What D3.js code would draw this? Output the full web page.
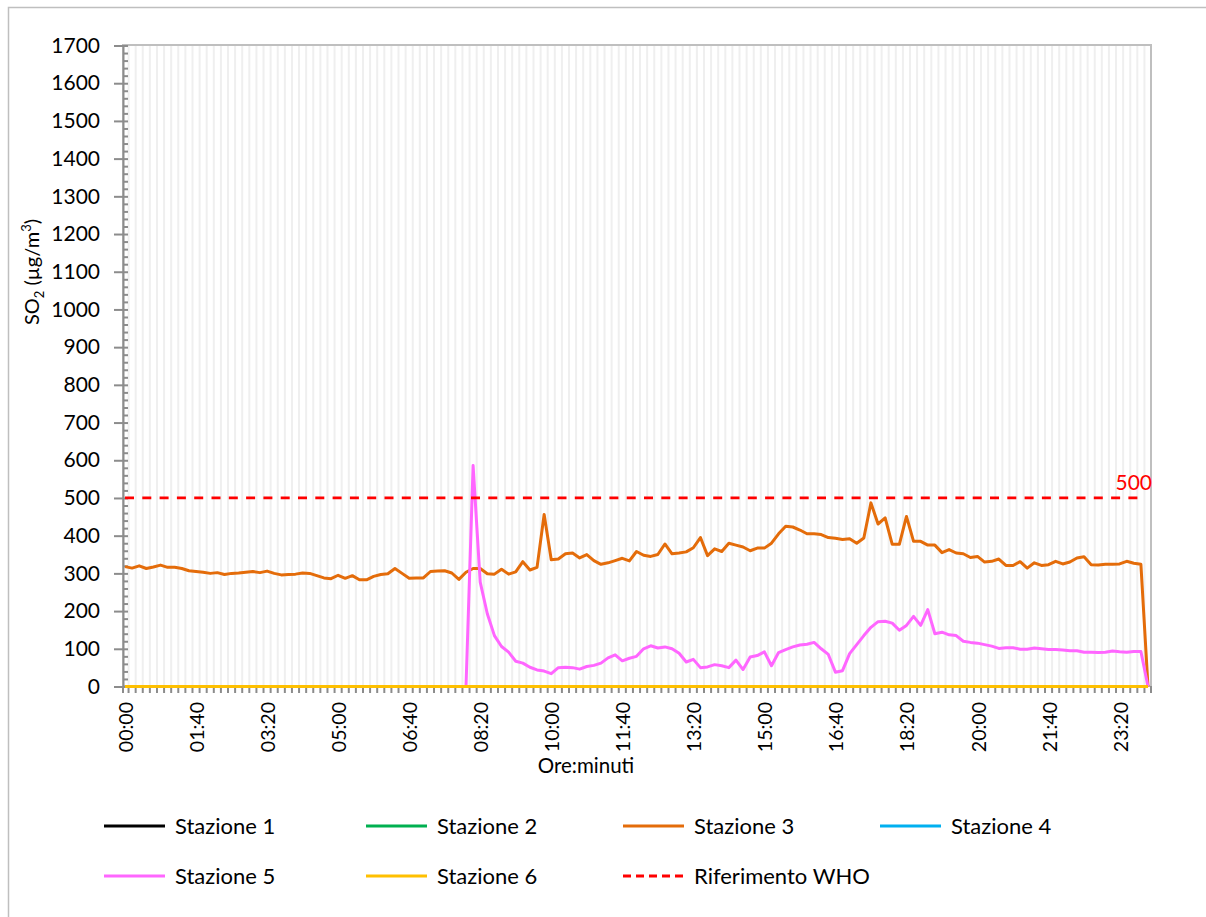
<!DOCTYPE html>
<html>
<head>
<meta charset="utf-8">
<script src="https://cdn.jsdelivr.net/npm/d3@7/dist/d3.min.js"></script>
<style>
  body { margin: 0; background: #fff; }
  text { font-family: Lato, "Open Sans", sans-serif; fill: #000; }
</style>
</head>
<body>
<div id="chart-area"></div>
<script>
// x tick labels (every 10th category, categories are 10 minutes apart)
const tickLabels = ["00:00","01:40","03:20","05:00","06:40","08:20","10:00","11:40",
  "13:20","15:00","16:40","18:20","20:00","21:40","23:20"];
const yTicks = [0,100,200,300,400,500,600,700,800,900,1000,1100,1200,1300,1400,1500,1600,1700];

const stazione1 = [
  0,0,0,0,0,0,0,0,0,0, 0,0,0,0,0,0,0,0,0,0, 0,0,0,0,0,0,0,0,0,0, 0,0,0,0,0,0,0,0,0,0,
  0,0,0,0,0,0,0,0,0,0, 0,0,0,0,0,0,0,0,0,0, 0,0,0,0,0,0,0,0,0,0, 0,0,0,0,0,0,0,0,0,0,
  0,0,0,0,0,0,0,0,0,0, 0,0,0,0,0,0,0,0,0,0, 0,0,0,0,0,0,0,0,0,0, 0,0,0,0,0,0,0,0,0,0,
  0,0,0,0,0,0,0,0,0,0, 0,0,0,0,0,0,0,0,0,0, 0,0,0,0,0];
const stazione2 = [
  0,0,0,0,0,0,0,0,0,0, 0,0,0,0,0,0,0,0,0,0, 0,0,0,0,0,0,0,0,0,0, 0,0,0,0,0,0,0,0,0,0,
  0,0,0,0,0,0,0,0,0,0, 0,0,0,0,0,0,0,0,0,0, 0,0,0,0,0,0,0,0,0,0, 0,0,0,0,0,0,0,0,0,0,
  0,0,0,0,0,0,0,0,0,0, 0,0,0,0,0,0,0,0,0,0, 0,0,0,0,0,0,0,0,0,0, 0,0,0,0,0,0,0,0,0,0,
  0,0,0,0,0,0,0,0,0,0, 0,0,0,0,0,0,0,0,0,0, 0,0,0,0,0];
const stazione3 = [
  318,314,320,313,317,322,316,316,313,307,
  305,303,300,302,297,300,301,303,305,302,
  306,300,296,297,298,301,300,294,288,286,
  295,287,294,283,283,292,297,299,313,300,
  287,288,288,305,306,307,301,284,303,313,
  313,299,298,311,298,304,331,309,316,456,
  336,338,352,354,341,350,334,324,328,334,
  340,333,358,348,345,350,378,352,354,357,
  368,395,347,365,358,380,375,370,360,367,
  367,380,405,425,423,415,405,405,403,395,
  393,390,392,380,394,487,431,447,377,377,
  451,385,385,375,375,355,363,354,352,342,
  345,330,332,338,321,321,331,314,328,321,
  323,332,325,330,341,344,323,322,324,324,
  325,332,327,324,0];
const stazione4 = [
  0,0,0,0,0,0,0,0,0,0, 0,0,0,0,0,0,0,0,0,0, 0,0,0,0,0,0,0,0,0,0, 0,0,0,0,0,0,0,0,0,0,
  0,0,0,0,0,0,0,0,0,0, 0,0,0,0,0,0,0,0,0,0, 0,0,0,0,0,0,0,0,0,0, 0,0,0,0,0,0,0,0,0,0,
  0,0,0,0,0,0,0,0,0,0, 0,0,0,0,0,0,0,0,0,0, 0,0,0,0,0,0,0,0,0,0, 0,0,0,0,0,0,0,0,0,0,
  0,0,0,0,0,0,0,0,0,0, 0,0,0,0,0,0,0,0,0,0, 0,0,0,0,0];
const stazione5 = [
  0,0,0,0,0,0,0,0,0,0, 0,0,0,0,0,0,0,0,0,0, 0,0,0,0,0,0,0,0,0,0, 0,0,0,0,0,0,0,0,0,0,
  0,0,0,0,0,0,0,0,0,586,
  277,193,135,106,91,67,62,51,44,41,
  34,50,51,50,46,53,56,62,76,84,
  68,75,80,100,108,102,105,100,88,65,
  72,50,52,58,55,50,70,45,78,82,
  92,55,90,98,105,110,112,117,100,85,
  38,42,87,111,135,157,172,173,168,149,
  162,186,162,204,140,144,137,135,120,117,
  115,111,107,101,103,103,99,99,102,100,
  98,98,97,95,95,91,91,90,91,94,
  92,91,93,93,0];
const stazione6 = [
  0,0,0,0,0,0,0,0,0,0, 0,0,0,0,0,0,0,0,0,0, 0,0,0,0,0,0,0,0,0,0, 0,0,0,0,0,0,0,0,0,0,
  0,0,0,0,0,0,0,0,0,0, 0,0,0,0,0,0,0,0,0,0, 0,0,0,0,0,0,0,0,0,0, 0,0,0,0,0,0,0,0,0,0,
  0,0,0,0,0,0,0,0,0,0, 0,0,0,0,0,0,0,0,0,0, 0,0,0,0,0,0,0,0,0,0, 0,0,0,0,0,0,0,0,0,0,
  0,0,0,0,0,0,0,0,0,0, 0,0,0,0,0,0,0,0,0,0, 0,0,0,0,0];
const riferimentoWHO = [
  500,500,500,500,500,500,500,500,500,500, 500,500,500,500,500,500,500,500,500,500,
  500,500,500,500,500,500,500,500,500,500, 500,500,500,500,500,500,500,500,500,500,
  500,500,500,500,500,500,500,500,500,500, 500,500,500,500,500,500,500,500,500,500,
  500,500,500,500,500,500,500,500,500,500, 500,500,500,500,500,500,500,500,500,500,
  500,500,500,500,500,500,500,500,500,500, 500,500,500,500,500,500,500,500,500,500,
  500,500,500,500,500,500,500,500,500,500, 500,500,500,500,500,500,500,500,500,500,
  500,500,500,500,500,500,500,500,500,500, 500,500,500,500,500,500,500,500,500,500,
  500,500,500,500,null];

const seriesNames = ["Stazione 1","Stazione 2","Stazione 3","Stazione 4","Stazione 5","Stazione 6","Riferimento WHO"];

// categories: one every 10 minutes, 00:00 .. 24:00
const pad = n => String(n).padStart(2, "0");
const times = stazione3.map((d, i) => pad(Math.floor(i * 10 / 60)) + ":" + pad(i * 10 % 60));

let d3 = window.d3;
let W = 1206, H = 917;
let margin = { left: 123, right: 55, top: 45, bottom: 231 };
let width = W - margin.left - margin.right,
    height = H - margin.top - margin.bottom;

let svg = d3.select("#chart-area")
  .append("svg")
    .attr("width", W)
    .attr("height", H);

// chart area border
svg.append("rect")
  .attr("x", 8.5).attr("y", 7.5)
  .attr("width", 1220).attr("height", 930)
  .attr("fill", "#fff")
  .attr("stroke", "#bfbfbf")
  .attr("stroke-width", 1.5);

let group = svg.append("g")
  .attr("transform", `translate(${ margin.left }, ${ margin.top })`);

let x = d3.scalePoint()
  .domain(times)
  .range([2, width - 3]);
let step = x.step();

// half pixel shift so the 3px lines sit on whole pixels
let y = d3.scaleLinear()
  .domain([0, 1700])
  .range([height + 0.5, 0.5]);

// vertical gridlines between categories
group.append("g")
  .selectAll("line")
  .data(times.slice(0, -1))
  .enter().append("line")
    .attr("x1", d => x(d) + step / 2)
    .attr("x2", d => x(d) + step / 2)
    .attr("y1", 0)
    .attr("y2", height)
    .attr("stroke", "#efefef")
    .attr("stroke-width", 2);

// plot area border
group.append("rect")
  .attr("x", 0).attr("y", 0)
  .attr("width", width).attr("height", height)
  .attr("fill", "none")
  .attr("stroke", "#bfbfbf")
  .attr("stroke-width", 2);

// x axis ticks
let xTicks = group.append("g")
  .attr("transform", `translate(0, ${ height })`);
xTicks.selectAll("line")
  .data(times.slice(0, -1))
  .enter().append("line")
    .attr("x1", d => x(d) + step / 2)
    .attr("x2", d => x(d) + step / 2)
    .attr("y1", 0)
    .attr("y2", 7)
    .attr("stroke", "#8c8c8c")
    .attr("stroke-width", 2);
xTicks.append("line")
  .attr("x1", 0).attr("x2", 0).attr("y1", 0).attr("y2", 7)
  .attr("stroke", "#8c8c8c").attr("stroke-width", 2);
xTicks.append("line")
  .attr("x1", width).attr("x2", width).attr("y1", 0).attr("y2", 7)
  .attr("stroke", "#8c8c8c").attr("stroke-width", 2);

// x labels
xTicks.selectAll("text")
  .data(tickLabels)
  .enter().append("text")
    .attr("transform", d => `translate(${ x(d) + 1 }, 16) rotate(-90)`)
    .attr("text-anchor", "end")
    .attr("dy", "0.36em")
    .attr("font-size", "19.5px")
    .text(d => d);

// y axis: major ticks crossing, minor ticks inside
let yAxisCall = d3.axisLeft(y)
  .tickValues(yTicks)
  .tickFormat(d3.format("d"))
  .tickSizeInner(9)
  .tickSizeOuter(0)
  .tickPadding(14);
let yAxis = group.append("g")
  .attr("class", "y-axis")
  .call(yAxisCall);
yAxis.select(".domain").attr("stroke", "#8c8c8c").attr("stroke-width", 2);
yAxis.selectAll(".tick line").attr("stroke", "#8c8c8c").attr("stroke-width", 2);
yAxis.selectAll(".tick text")
  .attr("font-size", "21px")
  .attr("font-family", "Lato, 'Open Sans', sans-serif")
  .attr("fill", "#000");

let yMinor = group.append("g")
  .call(d3.axisRight(y).ticks(68).tickSizeInner(5).tickSizeOuter(0).tickFormat(""));
yMinor.select(".domain").remove();
yMinor.selectAll(".tick line").attr("stroke", "#8c8c8c").attr("stroke-width", 2);

// series
let colors = ["#000000", "#00b050", "#e46c0a", "#00b0f0", "#ff66ff", "#ffc000", "#ff0000"];
let allSeries = [stazione1, stazione2, stazione3, stazione4, stazione5, stazione6, riferimentoWHO];

let line = d3.line()
  .defined(d => d != null)
  .x((d, i) => x(times[i]))
  .y(d => y(d));

group.append("g")
  .selectAll("path")
  .data(allSeries)
  .enter().append("path")
    .attr("d", line)
    .attr("fill", "none")
    .attr("stroke", (d, i) => colors[i])
    .attr("stroke-width", (d, i) => i === 6 ? 2.8 : 3)
    .attr("stroke-dasharray", (d, i) => i === 6 ? "9,8.3" : null)
    .attr("stroke-linejoin", "round");

// WHO label
group.append("text")
  .attr("x", width + 1)
  .attr("y", y(500) - 8)
  .attr("text-anchor", "end")
  .attr("font-size", "21px")
  .style("fill", "#ff0000")
  .text("500");

// axis titles
group.append("text")
  .attr("x", 586 - margin.left)
  .attr("y", 766 - margin.top)
  .attr("dy", "0.35em")
  .attr("text-anchor", "middle")
  .attr("font-size", "20.5px")
  .text("Ore:minuti");

let yTitle = svg.append("text")
  .attr("transform", "translate(32, 272) rotate(-90)")
  .attr("text-anchor", "middle")
  .attr("dy", "0.35em")
  .attr("font-size", "20px");
yTitle.append("tspan").text("SO");
yTitle.append("tspan").attr("font-size", "13px").attr("dy", "5").text("2");
yTitle.append("tspan").attr("dy", "-5").text(" (µg/m");
yTitle.append("tspan").attr("font-size", "13px").attr("dy", "-8").text("3");
yTitle.append("tspan").attr("dy", "8").text(")");

// legend
let legendX = [104, 366, 623, 880];
let legendY = [826, 876];
let legend = svg.append("g")
  .selectAll("g")
  .data(seriesNames)
  .enter().append("g")
    .attr("transform", (d, i) => `translate(${ legendX[i % 4] }, ${ legendY[Math.floor(i / 4)] })`);
legend.append("line")
  .attr("x1", 0).attr("x2", 61)
  .attr("stroke", (d, i) => colors[i])
  .attr("stroke-width", 3)
  .attr("stroke-dasharray", (d, i) => i === 6 ? "8,5" : null);
legend.append("text")
  .attr("x", 71)
  .attr("dy", "0.35em")
  .attr("font-size", "22px")
  .text(d => d);
</script>
</body>
</html>
